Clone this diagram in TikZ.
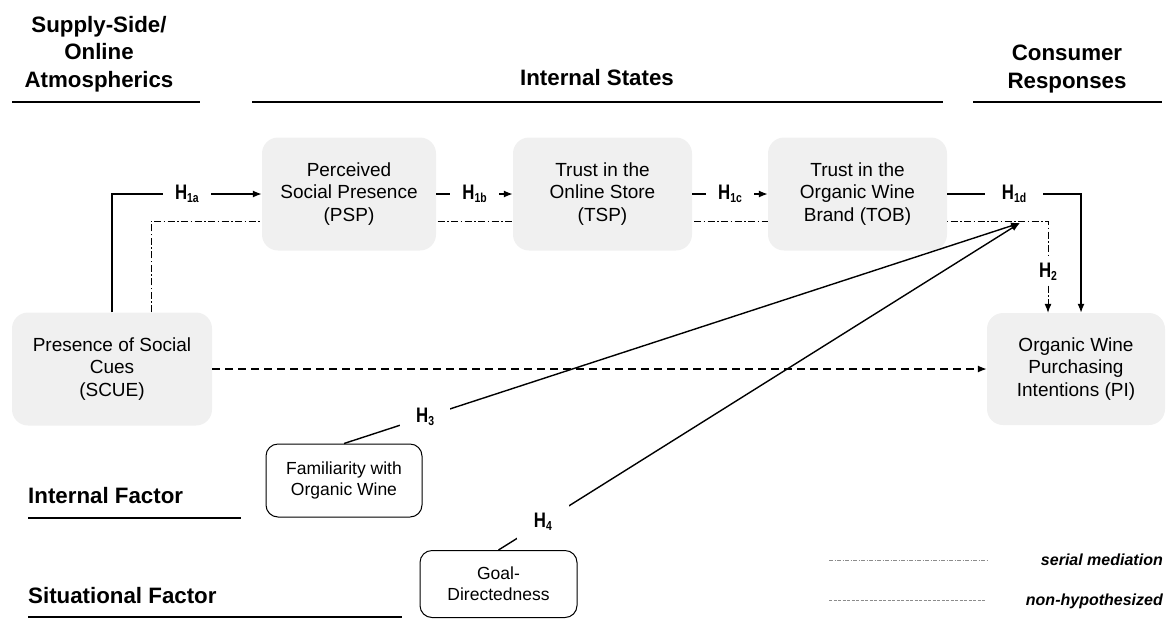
\documentclass[tikz,border=0pt]{standalone}
\usepackage{fontspec}
\setmainfont{Liberation Sans}
\newfontfamily\narrowsans{Liberation Sans}[FakeStretch=0.8]
\usetikzlibrary{arrows.meta,calc}
\pgfdeclarelayer{background}
\pgfsetlayers{background,main}
\definecolor{boxgray}{RGB}{240,240,240}
\definecolor{leggray}{RGB}{140,140,140}
\newcommand\hyplab[1]{{\narrowsans\bfseries\fontsize{21}{21}\selectfont H\raisebox{-3pt}{\fontsize{13}{13}\selectfont #1}}}
\begin{document}
\begin{tikzpicture}[x=1pt,y=-1pt,
  stbox/.style={fill=boxgray, rounded corners=16pt, align=center, font=\fontsize{19}{22.5}\selectfont, inner sep=0pt},
  fbox/.style={draw=black, line width=1pt, fill=white, rounded corners=12pt, align=center, font=\fontsize{17.5}{21}\selectfont, inner sep=0pt},
  hdr/.style={font=\bfseries\fontsize{22.3}{27.5}\selectfont, align=center, inner sep=0pt},
  hline/.style={line width=2.6pt},
  conn/.style={line width=1.4pt},
  tip/.style={-{Latex[length=9pt,width=7pt]}},
  hlab/.style={fill=white, inner xsep=12pt, inner ysep=1pt},
  serial/.style={line width=1pt, dash pattern=on 7pt off 2.5pt on 1.5pt off 2.5pt},
  nonhyp/.style={line width=1.4pt, dash pattern=on 8pt off 5pt},
  legserial/.style={draw=leggray, line width=1pt, dash pattern=on 4pt off 1.5pt on 1pt off 1.5pt},
  legnon/.style={draw=leggray, line width=1pt, dash pattern=on 3pt off 1.5pt},
  legtxt/.style={anchor=base east, font=\bfseries\itshape\fontsize{16}{16}\selectfont, inner sep=0pt},
]
\useasboundingbox (0,0) rectangle (1169,619);

% headers
\node[hdr] (hsupply) at (99,54) {Supply-Side/\\Online\\Atmospherics};
\node[hdr, anchor=base] (hstates) at (597,85) {Internal States};
\node[hdr] (hresp) at (1067,69) {Consumer\\Responses};
\node[hdr, anchor=base west] (hint) at (28,503) {Internal Factor};
\node[hdr, anchor=base west] (hsit) at (28,603) {Situational Factor};
\draw[hline] (12,102) -- (200,102);
\draw[hline] (252,102) -- (943,102);
\draw[hline] (973,102) -- (1162,102);
\draw[hline] (28,518) -- (241,518);
\draw[hline] (28,617) -- (402,617);

% boxes
\node[stbox, minimum width=174pt, minimum height=113pt] (psp) at (349,194) {Perceived\\Social Presence\\(PSP)};
\node[stbox, minimum width=179pt, minimum height=113pt] (tsp) at (602.5,194) {Trust in the\\Online Store\\(TSP)};
\node[stbox, minimum width=179pt, minimum height=113pt] (tob) at (857.5,194) {Trust in the\\Organic Wine\\Brand (TOB)};
\node[stbox, minimum width=200pt, minimum height=113pt] (scue) at (112,369) {Presence of Social\\Cues\\(SCUE)};
\node[stbox, minimum width=178pt, minimum height=112pt] (pi) at (1076,369) {Organic Wine\\Purchasing\\Intentions (PI)};
\node[fbox, minimum width=156pt, minimum height=73pt] (fam) at (344,480.5) {Familiarity with\\Organic Wine};
\node[fbox, minimum width=157pt, minimum height=67pt] (goal) at (498.5,584) {Goal-\\Directedness};

\coordinate (mod) at (1020,223);
\coordinate (smc) at (1048,221);

% serial mediation path (behind boxes)
\begin{pgfonlayer}{background}
\draw[serial,tip] ([xshift=39pt]scue.north) |- (smc) -- node[fill=white, inner xsep=1pt, inner ysep=5pt, pos=0.55] (lh2) {\hyplab{2}} ([xshift=-28pt]pi.north);
\end{pgfonlayer}

% hypothesized paths
\draw[conn,tip] (scue.north) |- node[hlab, pos=0.75] (lh1a) {\hyplab{1a}} (psp.west);
\draw[conn,tip] (psp.east) -- node[hlab] (lh1b) {\hyplab{1b}} (tsp.west);
\draw[conn,tip] (tsp.east) -- node[hlab] (lh1c) {\hyplab{1c}} (tob.west);
\draw[conn,tip] (tob.east) -| node[hlab, pos=0.25, inner xsep=17pt] (lh1d) {\hyplab{1d}} ([xshift=5pt]pi.north);
\draw[conn,tip] (fam.north) -- node[hlab, pos=0.12, inner xsep=16pt] (lh3) {\hyplab{3}} (mod);
\draw[conn,tip] (goal.north) -- node[hlab, pos=0.085, inner xsep=17pt, inner ysep=8pt] (lh4) {\hyplab{4}} (mod);
\draw[nonhyp,tip] (scue.east) -- (pi.west);

% legend
\coordinate (ls1) at (829,560); \coordinate (ls2) at (987,560);
\coordinate (ln1) at (829,600); \coordinate (ln2) at (985,600);
\draw[legserial] (ls1) -- (ls2);
\draw[legnon] (ln1) -- (ln2);
\node[legtxt] (lt1) at (1163,565) {serial mediation};
\node[legtxt] (lt2) at (1163,605) {non-hypothesized};
\end{tikzpicture}
\end{document}
